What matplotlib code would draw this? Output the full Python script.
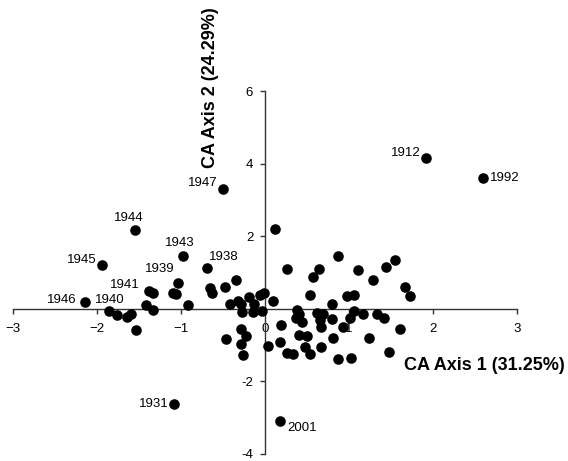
import matplotlib
matplotlib.use("Agg")
import matplotlib.pyplot as plt

plt.rcParams['font.family'] = ['Liberation Sans', 'DejaVu Sans']

# labelled years
years = ['1912', '1992', '1947', '1944', '1945', '1943', '1939',
         '1938', '1941', '1940', '1946', '1931', '2001']
year_x = [1.91, 2.59, -0.50, -1.55, -1.94, -0.98, -1.04,
          -0.69, -1.38, -1.86, -2.14, -1.08, 0.18]
year_y = [4.15, 3.60, 3.30, 2.16, 1.21, 1.45, 0.70,
          1.13, 0.48, -0.06, 0.18, -2.64, -3.09]

# unlabelled points
other_x = [-1.33, -1.10, -1.06, -1.42, -1.33, -0.91, -1.76, -1.64, -1.59, -1.53,
           0.12, 0.26, -0.35, -0.48, -0.65, -0.63, -0.42, -0.32, -0.28, -0.27,
           -0.19, -0.13, -0.14, -0.06, -0.01, -0.04, 0.10, 0.38, 0.40, 0.37,
           0.19, -0.28, -0.23, -0.46, -0.29, -0.26, 0.03, 0.18, 0.26, 0.33,
           0.40, 0.50, 0.87, 1.55, 1.44, 0.64, 0.57, 1.11, 1.28, 1.67,
           1.72, 0.53, 0.97, 1.06, 0.80, 0.62, 0.69, 0.44, 0.65, 0.67,
           0.80, 1.06, 1.16, 1.01, 1.33, 1.42, 0.93, 1.61, 0.81, 1.24,
           0.47, 0.53, 0.66, 1.47, 0.87, 1.02]
other_y = [0.44, 0.44, 0.40, 0.11, -0.04, 0.10, -0.17, -0.23, -0.14, -0.60,
           2.20, 1.09, 0.80, 0.60, 0.56, 0.42, 0.13, 0.22, 0.12, -0.09,
           0.32, 0.14, -0.09, 0.39, 0.42, -0.06, 0.20, -0.05, -0.15, -0.25,
           -0.45, -0.55, -0.75, -0.83, -0.98, -1.27, -1.02, -0.93, -1.22, -1.24,
           -0.74, -0.76, 1.45, 1.33, 1.14, 1.10, 0.87, 1.06, 0.79, 0.59,
           0.35, 0.38, 0.36, 0.38, 0.12, -0.11, -0.16, -0.37, -0.32, -0.50,
           -0.29, -0.06, -0.16, -0.25, -0.14, -0.27, -0.50, -0.55, -0.80, -0.80,
           -1.05, -1.26, -1.07, -1.19, -1.40, -1.37]

xticks = [-3, -2, -1, 0, 1, 2, 3]
yticks = [-4, -2, 0, 2, 4, 6]

# label placement (offset in points, horizontal alignment)
label_pos = {
    '1912': (-3.5, 3.5, 'right'), '1992': (5, 0.5, 'left'),
    '1947': (-4, 4.5, 'right'), '1944': (-4.5, 9, 'center'),
    '1945': (-4, 3.5, 'right'), '1943': (-2, 9.5, 'center'),
    '1939': (-2.5, 10.5, 'right'), '1938': (1.5, 7.5, 'left'),
    '1941': (-6.5, 4.5, 'right'), '1940': (1, 8, 'center'),
    '1946': (-6, 1.5, 'right'), '1931': (-4, 0.5, 'right'),
    '2001': (5, -5.5, 'left'),
}

fig = plt.figure(figsize=(5.68, 4.61), dpi=100)
ax = fig.add_axes([0.0224, 0.016, 0.8884, 0.786])

ax.scatter(other_x, other_y, s=58, color='black', zorder=3, linewidths=0)
ax.scatter(year_x, year_y, s=58, color='black', zorder=3, linewidths=0)

for yr, x, y in zip(years, year_x, year_y):
    dx, dy, ha = label_pos[yr]
    ax.annotate(yr, (x, y), xytext=(dx, dy), textcoords='offset points',
                ha=ha, va='center', fontsize=9.5)

ax.set_xlim(-3, 3)
ax.set_ylim(-4, 6)
ax.set_xticks(xticks)
ax.set_yticks(yticks)
ax.set_yticklabels(['' if t == 0 else str(t) for t in yticks])

for side in ['top', 'right']:
    ax.spines[side].set_visible(False)
ax.spines['left'].set_position(('data', 0))
ax.spines['bottom'].set_position(('data', 0))
for side in ['left', 'bottom']:
    ax.spines[side].set_color('#333333')
    ax.spines[side].set_linewidth(1)

ax.tick_params(direction='out', length=3.5, width=1, color='#333333',
               labelsize=9.5)
ax.tick_params(axis='x', pad=7)
ax.tick_params(axis='y', pad=5)

fig.text(0.995, 0.208, 'CA Axis 1 (31.25%)', ha='right', va='center',
         fontsize=13, fontweight='bold')
fig.text(0.37, 0.81, 'CA Axis 2 (24.29%)', ha='center', va='center',
         rotation=90, fontsize=13, fontweight='bold')

fig.savefig('out.png', dpi=100)
